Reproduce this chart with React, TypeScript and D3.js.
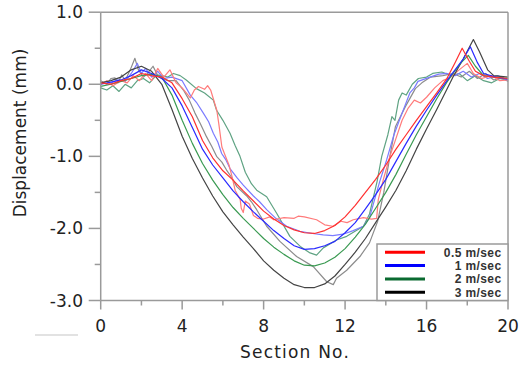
import React from "react";
import * as d3 from "d3";

type P = [number, number];

const X_TICKS = [0, 4, 8, 12, 16, 20];
const X_MINOR = [2, 6, 10, 14, 18];
const Y_TICKS = [1, 0, -1, -2, -3];
const Y_MINOR = [0.5, -0.5, -1.5, -2.5];
const Y_LABELS = ["1.0", "0.0", "-1.0", "-2.0", "-3.0"];
const LEGEND = ["0.5 m/sec", "1 m/sec", "2 m/sec", "3 m/sec"];

const RED_S: P[] = [[0,0.02],[0.5,0.0],[1,0.05],[1.5,0.08],[2,0.15],[2.5,0.12],[3,0.1],[3.5,0.02],[4,-0.2],[4.5,-0.45],[5,-0.78],[5.5,-1.02],[6,-1.2],[6.5,-1.33],[7,-1.48],[7.5,-1.62],[8,-1.76],[8.5,-1.87],[9,-1.96],[9.5,-2.02],[10,-2.06],[10.5,-2.07],[11,-2.03],[11.5,-1.96],[12,-1.84],[12.5,-1.68],[13,-1.5],[13.5,-1.32],[14,-1.12],[14.5,-0.9],[15,-0.7],[15.5,-0.5],[16,-0.31],[16.5,-0.12],[17,0.08],[17.4,0.3],[17.75,0.5],[18.1,0.32],[18.4,0.18],[18.8,0.12],[19.3,0.1],[20,0.08]];
const BLUE_S: P[] = [[0,0.0],[0.5,0.03],[1,0.06],[1.5,0.12],[2,0.2],[2.5,0.15],[3,0.08],[3.5,-0.05],[4,-0.3],[4.5,-0.6],[5,-0.9],[5.5,-1.12],[6,-1.3],[6.5,-1.48],[7,-1.63],[7.5,-1.77],[8,-1.9],[8.5,-2.03],[9,-2.14],[9.5,-2.24],[10,-2.29],[10.5,-2.28],[11,-2.24],[11.5,-2.18],[12,-2.06],[12.5,-1.92],[13,-1.73],[13.5,-1.53],[14,-1.32],[14.5,-1.07],[15,-0.82],[15.5,-0.58],[16,-0.36],[16.5,-0.15],[17,0.05],[17.4,0.2],[17.8,0.35],[18.15,0.52],[18.5,0.3],[18.8,0.15],[19.4,0.1],[20,0.07]];
const GREEN_S: P[] = [[0,-0.03],[0.5,0.0],[1,0.04],[1.5,0.08],[2,0.12],[2.5,0.14],[3,0.1],[3.5,-0.15],[4,-0.5],[4.5,-0.82],[5,-1.1],[5.5,-1.33],[6,-1.53],[6.5,-1.71],[7,-1.86],[7.5,-2.0],[8,-2.14],[8.5,-2.26],[9,-2.36],[9.5,-2.45],[10,-2.51],[10.5,-2.52],[11,-2.48],[11.5,-2.4],[12,-2.28],[12.5,-2.12],[13,-1.94],[13.5,-1.72],[14,-1.5],[14.5,-1.25],[15,-0.97],[15.5,-0.7],[16,-0.45],[16.5,-0.2],[17,0.03],[17.3,0.15],[17.7,0.3],[18.05,0.4],[18.4,0.25],[18.8,0.12],[19.4,0.1],[20,0.08]];
const BLACK_S: P[] = [[0,0.02],[0.5,0.05],[1,0.1],[1.5,0.2],[2,0.25],[2.5,0.18],[3,0.0],[3.5,-0.35],[4,-0.72],[4.5,-1.03],[5,-1.3],[5.5,-1.55],[6,-1.77],[6.5,-1.95],[7,-2.12],[7.5,-2.28],[8,-2.45],[8.5,-2.58],[9,-2.69],[9.5,-2.78],[10,-2.82],[10.5,-2.82],[11,-2.77],[11.5,-2.66],[12,-2.5],[12.5,-2.33],[13,-2.14],[13.5,-1.92],[14,-1.7],[14.5,-1.47],[15,-1.2],[15.5,-0.9],[16,-0.62],[16.5,-0.35],[17,-0.07],[17.3,0.1],[17.8,0.35],[18.3,0.62],[18.6,0.45],[19,0.2],[19.3,0.12],[20,0.1]];

const RED_N: P[] = [[0,0.0],[0.3,0.05],[0.6,-0.02],[1,0.05],[1.3,0.02],[1.6,0.12],[1.9,0.05],[2.2,0.15],[2.5,0.05],[2.8,0.22],[3.1,0.1],[3.4,0.2],[3.7,0.02],[4.0,-0.05],[4.4,-0.19],[4.6,-0.08],[4.8,-0.03],[5.1,-0.07],[5.25,-0.02],[5.4,-0.08],[5.7,-0.36],[5.8,-0.55],[5.95,-0.87],[6.2,-1.05],[6.3,-1.12],[6.45,-1.28],[6.6,-1.47],[6.85,-1.6],[6.9,-1.72],[7.0,-1.78],[7.1,-1.62],[7.3,-1.66],[7.5,-1.82],[7.7,-1.86],[8.0,-1.87],[8.3,-1.84],[8.5,-1.88],[9,-1.85],[9.5,-1.86],[9.7,-1.83],[10,-1.84],[10.6,-1.88],[11,-1.95],[11.4,-1.97],[11.8,-1.9],[12.1,-1.92],[12.4,-1.88],[12.9,-1.85],[13.3,-1.87],[13.55,-1.86],[13.63,-1.6],[13.9,-1.3],[14.2,-1.0],[14.5,-0.75],[14.8,-0.5],[15.1,-0.33],[15.4,-0.22],[15.7,-0.26],[16.0,-0.18],[16.4,-0.05],[16.8,0.05],[17.2,0.1],[17.6,0.2],[18.0,0.29],[18.3,0.15],[18.7,0.08],[19.2,0.12],[19.6,0.05],[20,0.06]];
const BLUE_N: P[] = [[0,0.02],[0.4,0.0],[0.8,0.06],[1.2,0.04],[1.5,0.15],[1.8,0.29],[2.0,0.15],[2.2,0.22],[2.5,0.1],[2.8,0.18],[3.1,0.08],[3.5,0.1],[4.0,0.05],[4.4,-0.15],[4.7,-0.25],[5.04,-0.4],[5.3,-0.52],[5.53,-0.68],[5.75,-0.8],[5.94,-0.96],[6.15,-1.05],[6.35,-1.17],[6.7,-1.3],[7.0,-1.4],[7.5,-1.55],[7.8,-1.63],[8.15,-1.74],[8.6,-1.86],[9.13,-1.97],[9.78,-2.04],[10.4,-2.07],[10.93,-2.09],[11.4,-2.1],[11.9,-2.08],[12.4,-2.03],[12.9,-1.97],[13.2,-1.85],[13.38,-1.67],[13.7,-1.35],[14.04,-1.05],[14.4,-0.7],[14.8,-0.4],[15.18,-0.12],[15.4,-0.05],[15.58,0.04],[16.17,0.1],[16.6,0.14],[17,0.15],[17.4,0.12],[17.8,0.18],[18.2,0.1],[18.6,0.15],[19,0.08],[19.5,0.12],[20,0.05]];
const TEAL_N: P[] = [[0,-0.05],[0.3,-0.08],[0.6,-0.02],[0.9,-0.1],[1.2,0.0],[1.5,-0.05],[1.8,0.05],[2.1,0.08],[2.4,0.02],[2.75,0.13],[3.0,0.12],[3.3,0.1],[3.57,0.15],[3.9,0.12],[4.2,0.06],[4.7,-0.06],[5.1,-0.12],[5.53,-0.22],[5.69,-0.36],[6.0,-0.5],[6.35,-0.68],[6.6,-0.85],[6.84,-1.0],[7.1,-1.22],[7.4,-1.38],[7.66,-1.47],[8.15,-1.56],[8.64,-1.79],[9.29,-2.11],[9.8,-2.25],[10.28,-2.34],[10.6,-2.37],[10.93,-2.27],[11.58,-2.16],[12.08,-2.11],[12.9,-1.97],[13.2,-1.8],[13.57,-1.35],[13.8,-1.0],[14.1,-0.7],[14.3,-0.45],[14.45,-0.5],[14.63,-0.22],[14.8,-0.12],[15.0,-0.15],[15.3,0.0],[15.6,0.08],[16.0,0.1],[16.3,0.15],[16.75,0.17],[17.2,0.12],[17.6,0.15],[18,0.05],[18.4,0.12],[18.8,0.05],[19.2,0.02],[19.6,0.08],[20,0.05]];
const GRAY_N: P[] = [[0,0.05],[0.3,0.0],[0.5,0.08],[0.7,0.09],[0.85,0.02],[1.03,0.13],[1.2,0.05],[1.45,0.2],[1.68,0.36],[1.85,0.2],[2.1,0.1],[2.3,0.15],[2.57,0.25],[2.8,0.12],[3.0,0.08],[3.3,0.05],[3.7,0.05],[4.06,-0.08],[4.35,-0.22],[4.63,-0.4],[4.9,-0.55],[5.2,-0.73],[5.45,-0.86],[5.69,-1.0],[5.95,-1.08],[6.18,-1.19],[6.45,-1.3],[6.68,-1.42],[7.17,-1.55],[7.4,-1.63],[7.66,-1.74],[8.15,-1.97],[8.8,-2.18],[9.62,-2.39],[10.44,-2.53],[11.1,-2.74],[11.42,-2.78],[11.58,-2.69],[12.08,-2.58],[12.73,-2.39],[13.2,-2.2],[13.6,-1.9],[13.9,-1.5],[14.2,-1.0],[14.47,-0.59],[14.96,-0.31],[15.45,-0.06],[15.77,0.02],[16.2,0.1],[16.8,0.12],[17.3,0.15],[17.7,0.1],[18.1,0.18],[18.5,0.08],[18.9,0.15],[19.3,0.06],[19.7,0.1],[20,0.04]];

const SERIES: { data: P[]; color: string; w: number }[] = [
  { data: TEAL_N, color: "#5fa383", w: 1.2 },
  { data: GRAY_N, color: "#8c8c8c", w: 1.2 },
  { data: BLUE_N, color: "#7b7bff", w: 1.2 },
  { data: RED_N, color: "#ff7b7b", w: 1.2 },
  { data: BLACK_S, color: "#444444", w: 1.2 },
  { data: GREEN_S, color: "#3a9a52", w: 1.2 },
  { data: BLUE_S, color: "#2a2aff", w: 1.2 },
  { data: RED_S, color: "#ff3030", w: 1.2 },
];
const LEGEND_COLORS = ["#ff0000", "#0000ff", "#0a6a30", "#000000"];

export default function App() {
  const x = d3.scaleLinear().domain([0, 20]).range([100.7, 508]);
  const y = d3.scaleLinear().domain([-3, 1]).range([300.5, 12.2]);
  const line = d3.line<P>().x((d) => x(d[0])).y((d) => y(d[1]));
  const axisColor = "#9a9a9a";
  const font = "DejaVu Sans, sans-serif";
  return (
    <svg width={524} height={365} style={{ position: "absolute", left: 0, top: 0, background: "#fff" }}>
      <rect x={0} y={0} width={524} height={365} fill="#fff" />
      {SERIES.map((s, i) => (
        <path key={i} d={line(s.data) || ""} fill="none" stroke={s.color} strokeWidth={s.w} strokeLinejoin="round" />
      ))}
      <line x1={x(0)} x2={x(20)} y1={y(1)} y2={y(1)} stroke={axisColor} strokeWidth={1.5} />
      <line x1={x(20)} x2={x(20)} y1={y(1)} y2={y(-3)} stroke={axisColor} strokeWidth={1.5} />
      <line x1={x(0)} x2={x(0)} y1={y(1)} y2={y(-3)} stroke={axisColor} strokeWidth={1.5} />
      <line x1={x(0)} x2={x(20)} y1={y(-3)} y2={y(-3)} stroke={axisColor} strokeWidth={1.5} />
      {Y_TICKS.map((v) => (
        <line key={"yt" + v} x1={x(0) - 12} x2={x(0)} y1={y(v)} y2={y(v)} stroke={axisColor} strokeWidth={1.5} />
      ))}
      {Y_MINOR.map((v) => (
        <line key={"ym" + v} x1={x(0) - 6} x2={x(0)} y1={y(v)} y2={y(v)} stroke={axisColor} strokeWidth={1.5} />
      ))}
      {X_TICKS.map((v) => (
        <line key={"xt" + v} x1={x(v)} x2={x(v)} y1={y(-3)} y2={y(-3) + 9} stroke={axisColor} strokeWidth={1.5} />
      ))}
      {X_MINOR.map((v) => (
        <line key={"xm" + v} x1={x(v)} x2={x(v)} y1={y(-3)} y2={y(-3) + 5} stroke={axisColor} strokeWidth={1.5} />
      ))}
      {Y_TICKS.map((v, i) => (
        <text key={"yl" + v} x={83} y={y(v) + 6} textAnchor="end" fontFamily={font} fontSize={17} fill="#222">
          {Y_LABELS[i]}
        </text>
      ))}
      {X_TICKS.map((v) => (
        <text key={"xl" + v} x={x(v)} y={332} textAnchor="middle" fontFamily={font} fontSize={17} fill="#222">
          {String(v)}
        </text>
      ))}
      <text x={295} y={358} textAnchor="middle" fontFamily={font} fontSize={17} letterSpacing={1.2} fill="#222">
        Section No.
      </text>
      <text transform={`translate(26,${133}) rotate(-90)`} textAnchor="middle" fontFamily={font} fontSize={17} fill="#222">
        Displacement (mm)
      </text>
      <rect x={377} y={244} width={131} height={56.5} fill="#fff" stroke={axisColor} strokeWidth={1.5} />
      {LEGEND.map((t, i) => (
        <g key={t}>
          <line x1={385} x2={425} y1={252.3 + i * 13.3} y2={252.3 + i * 13.3} stroke={LEGEND_COLORS[i]} strokeWidth={3} />
          <text x={501.5} y={252.3 + i * 13.3 + 4.3} textAnchor="end" fontFamily="Liberation Sans, Arial, sans-serif" fontWeight="bold" fontSize={12} letterSpacing={0.4} fill="#333">
            {t}
          </text>
        </g>
      ))}
      <line x1={35} x2={78} y1={335} y2={335} stroke="#e2e2e2" strokeWidth={2} />
    </svg>
  );
}
